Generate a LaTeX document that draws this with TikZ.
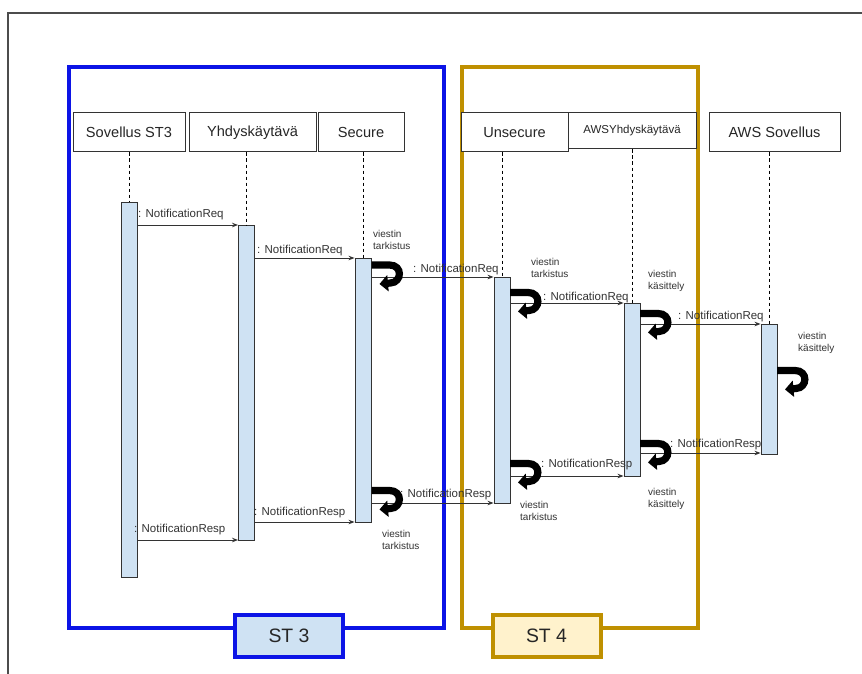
\documentclass[tikz,border=0pt]{standalone}
\usepackage{fontspec}
\setmainfont{Liberation Sans}
\usetikzlibrary{arrows.meta}
\definecolor{stblue}{RGB}{12,20,230}
\definecolor{stgold}{RGB}{191,144,0}
\definecolor{barfill}{RGB}{207,226,243}
\definecolor{st4fill}{RGB}{255,242,204}
\definecolor{ink}{RGB}{51,51,51}
\begin{document}
\begin{tikzpicture}[x=1pt,y=-1pt,
  head/.style={draw=ink, line width=1, fill=white, inner sep=0, font=\fontsize{14.6}{16}\selectfont, text=black!85},
  bar/.style={draw=ink, line width=0.9, fill=barfill, minimum width=16, inner sep=0, anchor=north},
  life/.style={dash pattern=on 3.5pt off 2.5pt, line width=0.9, black},
  msg/.style={draw=ink, line width=1, -{Stealth[length=6pt,width=4.5pt]}},
  mlabel/.style={anchor=base west, inner sep=0, font=\fontsize{11.5}{13}\selectfont, text=ink},
  note/.style={anchor=north west, inner sep=0, align=left, font=\fontsize{10}{12.5}\selectfont, text=ink},
  frame3/.style={draw=stblue, line width=4},
  frame4/.style={draw=stgold, line width=4},
  stlabel/.style={line width=4, minimum width=108, minimum height=42, inner sep=0, font=\fontsize{19.4}{22}\selectfont, text=black!85},
  curl/.pic={\draw[line width=7.2, black, -{Triangle[length=8.5pt,width=16pt]}] (0,4.5) -- (18,4.5) .. controls (31.5,4.5) and (30.5,22) .. (19,22.5) -- (8,23.5);}
]
\fill[white] (0,0) rectangle (862,674);
\useasboundingbox (0,0) rectangle (862,674);
% outer frame
\draw[line width=1.5, black!70] (8,674) -- (8,13) -- (862,13);
% group frames
\draw[frame3] (69,67) rectangle (444,628);
\draw[frame4] (462,67) rectangle (698,628);
\node[stlabel, draw=stblue, fill=barfill] (st3) at (289,636) {ST 3};
\node[stlabel, draw=stgold, fill=st4fill] (st4) at (546.5,636) {ST 4};
% headers
\node[head, minimum width=112, minimum height=39] (h1) at (129,132.5) {Sovellus ST3};
\node[head, minimum width=127, minimum height=39] (h2) at (252.5,132.5) {Yhdyskäytävä};
\node[head, minimum width=86, minimum height=39] (h3) at (361,132.5) {Secure};
\node[head, minimum width=107, minimum height=39] (h4) at (514.5,132.5) {Unsecure};
\node[head, minimum width=128, minimum height=36, font=\fontsize{11.5}{13}\selectfont] (h5) at (632,131) {AWSYhdyskäytävä};
\node[head, minimum width=131, minimum height=39] (h6) at (774.5,132.5) {AWS Sovellus};
% activation bars
\node[bar, minimum height=375] (b1) at (129,202) {};
\node[bar, minimum height=315] (b2) at (246.5,225) {};
\node[bar, minimum height=264] (b3) at (363,258) {};
\node[bar, minimum height=226] (b4) at (502,277) {};
\node[bar, minimum height=173] (b5) at (632,303) {};
\node[bar, minimum height=130] (b6) at (769,324) {};
% lifelines
\draw[life] (b1.north |- h1.south) -- (b1.north);
\draw[life] (b2.north |- h2.south) -- (b2.north);
\draw[life] (b3.north |- h3.south) -- (b3.north);
\draw[life] (b4.north |- h4.south) -- (b4.north);
\draw[life] (b5.north |- h5.south) -- (b5.north);
\draw[life] (b6.north |- h6.south) -- (b6.north);
% message levels
\coordinate (m1) at (0,225);
\coordinate (m2) at (0,258);
\coordinate (m3) at (0,277);
\coordinate (m4) at (0,303);
\coordinate (m5) at (0,324);
\coordinate (m6) at (0,453);
\coordinate (m7) at (0,476);
\coordinate (m8) at (0,503);
\coordinate (m9) at (0,522);
\coordinate (m10) at (0,540);
% labels
\node[mlabel] (l1) at (138,217) {: NotificationReq};
\node[mlabel] (l2) at (257,253) {: NotificationReq};
\node[mlabel] (l3) at (413,272) {: NotificationReq};
\node[mlabel] (l4) at (543,300) {: NotificationReq};
\node[mlabel] (l5) at (678,319) {: NotificationReq};
\node[mlabel] (l6) at (670,447) {: NotificationResp};
\node[mlabel] (l7) at (541,467) {: NotificationResp};
\node[mlabel] (l8) at (400,497) {: NotificationResp};
\node[mlabel] (l9) at (254,515) {: NotificationResp};
\node[mlabel] (l10) at (134,532) {: NotificationResp};
% messages
\draw[msg] (b1.east |- m1) -- (b2.west |- m1);
\draw[msg] (b2.east |- m2) -- (b3.west |- m2);
\draw[msg] (b3.east |- m3) -- (b4.west |- m3);
\draw[msg] (b4.east |- m4) -- (b5.west |- m4);
\draw[msg] (b5.east |- m5) -- (b6.west |- m5);
\draw[msg] (b5.east |- m6) -- (b6.west |- m6);
\draw[msg] (b4.east |- m7) -- (b5.west |- m7);
\draw[msg] (b3.east |- m8) -- (b4.west |- m8);
\draw[msg] (b2.east |- m9) -- (b3.west |- m9);
\draw[msg] (b1.east |- m10) -- (b2.west |- m10);
% self processing curls
\pic at (371.5,260.5) {curl};
\pic at (510,288) {curl};
\pic at (640,309) {curl};
\pic at (777,366) {curl};
\pic at (640,439) {curl};
\pic at (510,459) {curl};
\pic at (371.5,486) {curl};
% notes
\node[note] (n1) at (373,230) {viestin\\tarkistus};
\node[note] (n2) at (531,258) {viestin\\tarkistus};
\node[note] (n3) at (648,270) {viestin\\käsittely};
\node[note] (n4) at (798,332) {viestin\\käsittely};
\node[note] (n5) at (648,488) {viestin\\käsittely};
\node[note] (n6) at (520,501) {viestin\\tarkistus};
\node[note] (n7) at (382,530) {viestin\\tarkistus};
\end{tikzpicture}
\end{document}
